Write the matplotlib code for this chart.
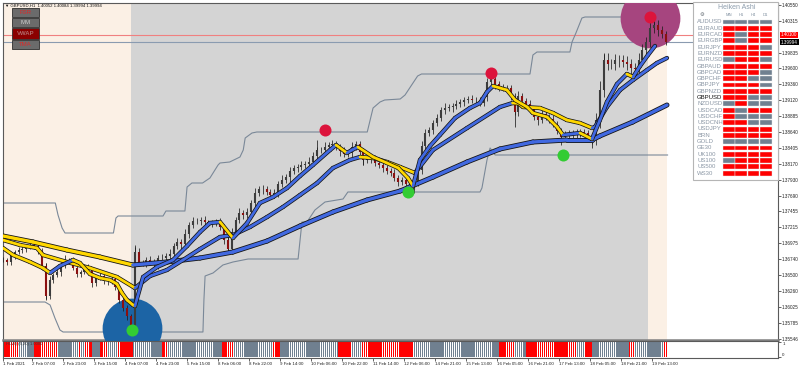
import numpy as np
import matplotlib.pyplot as plt
import matplotlib.transforms as mtransforms
from matplotlib.collections import LineCollection
from matplotlib.patches import Rectangle

plt.rcParams['font.family'] = ['Liberation Sans', 'DejaVu Sans']

# ---------------- data (GBPUSD H1, Feb 2021) ----------------
# x axis = bar number, one candle drawn every 2 bars
candle_step = 2
closes = [
    1.36725, 1.36695, 1.36800, 1.36845, 1.36875, 1.36890, 1.36920, 1.36950, 1.36935, 1.36860,
    1.36635, 1.36185, 1.36425, 1.36500, 1.36545, 1.36650, 1.36725, 1.36725, 1.36605, 1.36515,
    1.36545, 1.36605, 1.36575, 1.36380, 1.36455, 1.36485, 1.36410, 1.36410, 1.36440, 1.36320,
    1.36125, 1.36005, 1.35885, 1.35720, 1.36845, 1.36680, 1.36680, 1.36725, 1.36695, 1.36650,
    1.36755, 1.36755, 1.36785, 1.36815, 1.36935, 1.36995, 1.36965, 1.37115, 1.37250, 1.37310,
    1.37310, 1.37325, 1.37295, 1.37280, 1.37280, 1.37295, 1.37220, 1.37025, 1.36890, 1.37145,
    1.37325, 1.37430, 1.37400, 1.37445, 1.37580, 1.37730, 1.37790, 1.37790, 1.37745, 1.37700,
    1.37730, 1.37865, 1.37925, 1.37970, 1.38060, 1.38105, 1.38120, 1.38150, 1.38165, 1.38195,
    1.38285, 1.38375, 1.38375, 1.38420, 1.38450, 1.38465, 1.38420, 1.38360, 1.38315, 1.38330,
    1.38420, 1.38465, 1.38345, 1.38225, 1.38255, 1.38240, 1.38180, 1.38150, 1.38105, 1.38060,
    1.38030, 1.37955, 1.37895, 1.37925, 1.37865, 1.37775, 1.37880, 1.38075, 1.38435, 1.38630,
    1.38675, 1.38780, 1.38855, 1.38975, 1.39005, 1.39020, 1.39035, 1.39065, 1.39095, 1.39125,
    1.39140, 1.39125, 1.39125, 1.39080, 1.39170, 1.39395, 1.39440, 1.39365, 1.39305, 1.39305,
    1.39305, 1.39170, 1.38945, 1.39185, 1.39110, 1.39065, 1.38990, 1.38870, 1.38825, 1.38915,
    1.38870, 1.38840, 1.38765, 1.38660, 1.38570, 1.38600, 1.38630, 1.38600, 1.38630, 1.38645,
    1.38630, 1.38585, 1.38525, 1.38825, 1.39275, 1.39725, 1.39665, 1.39665, 1.39725, 1.39725,
    1.39695, 1.39665, 1.39605, 1.39590, 1.39725, 1.39875, 1.39995, 1.40205, 1.40250, 1.40175,
    1.40115, 1.39994,
]
# upper / lower shadow of each candle, in pips
wick_up = [4, 3, 5, 3, 4, 6, 3, 5, 4, 3, 5, 4, 6, 3, 4, 5, 7, 3, 4, 5,
           3, 4, 6, 5, 3, 4, 5, 3, 4, 6, 3, 4, 5, 3, 8, 6, 5, 4, 6, 5,
           4, 6, 5, 7, 5, 6, 4, 7, 5, 6, 5, 4, 6, 3, 5, 4, 6, 5, 4, 6,
           5, 7, 4, 6, 5, 8, 4, 6, 5, 4, 6, 5, 7, 4, 6, 5, 4, 6, 5, 7,
           6, 5, 4, 7, 5, 6, 4, 5, 6, 4, 7, 5, 4, 6, 5, 4, 6, 5, 4, 5,
           4, 6, 5, 4, 5, 3, 6, 5, 7, 6, 5, 4, 6, 5, 7, 5, 4, 6, 5, 4,
           5, 6, 4, 5, 7, 6, 8, 5, 4, 6, 5, 4, 6, 7, 5, 4, 6, 5, 4, 6,
           5, 4, 6, 5, 4, 6, 5, 4, 6, 5, 4, 5, 3, 10, 14, 9, 10, 8, 9, 8,
           7, 9, 8, 7, 10, 9, 8, 10, 8, 7, 6, 5]
wick_dn = [3, 5, 4, 6, 3, 4, 5, 3, 4, 5, 6, 4, 5, 4, 3, 6, 4, 5, 3, 4,
           5, 3, 4, 6, 5, 3, 4, 6, 5, 4, 5, 4, 6, 5, 6, 5, 4, 6, 5, 4,
           6, 5, 4, 5, 6, 4, 7, 5, 6, 4, 4, 6, 5, 4, 6, 5, 4, 6, 5, 7,
           4, 5, 6, 5, 4, 6, 5, 7, 4, 6, 5, 6, 4, 5, 7, 4, 6, 5, 4, 6,
           5, 6, 4, 5, 6, 4, 5, 7, 4, 5, 6, 4, 5, 7, 4, 6, 5, 4, 6, 5,
           5, 4, 6, 5, 4, 6, 5, 4, 6, 5, 4, 6, 5, 4, 6, 5, 7, 4, 5, 6,
           5, 4, 6, 5, 4, 6, 5, 7, 5, 4, 6, 5, 4, 6, 5, 4, 6, 5, 7, 4,
           5, 6, 4, 5, 7, 4, 6, 5, 4, 6, 5, 4, 6, 8, 12, 10, 9, 8, 9, 10,
           8, 9, 10, 8, 9, 8, 10, 7, 8, 9, 6, 5]
# long wicks that stand out
spike_bars = [22, 68, 116, 162, 186, 210, 252, 264, 288, 304, 310, 336]
spike_lows = [1.36125, 1.35645, 1.36845, 1.38375, 1.38150, 1.37700, 1.39440, 1.38720, 1.38450, 1.38405, 1.39275, 1.40205]
spike_highs = [1.36680, 1.36950, 1.37100, 1.38525, 1.38345, 1.37925, 1.39545, 1.39185, 1.38660, 1.38600, 1.39830, 1.40400]

# moving averages (bar, price) knots
fast_bars = [0, 5.2, 14, 20.6, 24.3, 29.4, 36.1, 39.7, 44.9, 50, 55.2, 58.8, 61.4, 64, 67.1, 68.1, 72.3, 79.5,
             87.7, 95, 101.7, 106.8, 112, 118.7, 126, 132.6, 139.4, 146.6, 153.3, 160, 168.8, 171.9, 177.5,
             180.1, 183.2, 191, 198.2, 204, 209, 211.6, 215.2, 220.4, 225.5, 233.3, 241, 246.2, 249.8, 252.9,
             256.5, 260.1, 264.3, 270.5, 273.5, 280.8, 286, 289, 297.8, 304, 308.1, 311.7, 316.9, 322, 325.2,
             328.8, 332.9, 336.5]
fast_vals = [1.36905, 1.36800, 1.36695, 1.36605, 1.36530, 1.36635, 1.36725, 1.36680, 1.36515, 1.36455,
             1.36425, 1.36365, 1.36230, 1.36125, 1.36050, 1.36035, 1.36470, 1.36620, 1.36725, 1.36935,
             1.37145, 1.37280, 1.37295, 1.37055, 1.37280, 1.37580, 1.37670, 1.37805, 1.37985, 1.38150,
             1.38375, 1.38450, 1.38330, 1.38375, 1.38420, 1.38270, 1.38180, 1.38105, 1.37955, 1.37835,
             1.38225, 1.38435, 1.38600, 1.38855, 1.39005, 1.39080, 1.39245, 1.39335, 1.39305, 1.39275,
             1.39125, 1.39020, 1.38930, 1.38870, 1.38720, 1.38600, 1.38630, 1.38540, 1.38825, 1.39095,
             1.39365, 1.39515, 1.39470, 1.39635, 1.39800, 1.39935]
mid_bars = [0, 8.8, 17.5, 20.6, 33, 44.9, 58.8, 68.1, 75.9, 84.6, 92.9, 101.7, 112, 118.7, 127.5, 136.3, 144.5,
            153.3, 162.1, 170.3, 179, 184.3, 191, 198.2, 205, 212.6, 221.9, 239.5, 256.5, 263, 266, 268.4, 277.2,
            283.9, 291, 297.8, 304, 305.5, 311.7, 318.5, 325.2, 332.4, 337.5, 342.7]
mid_vals = [1.37025, 1.36950, 1.36905, 1.36800, 1.36695, 1.36605, 1.36470, 1.36305, 1.36485, 1.36575,
            1.36725, 1.36890, 1.37070, 1.37100, 1.37220, 1.37370, 1.37520, 1.37700, 1.37880, 1.38105,
            1.38225, 1.38270, 1.38255, 1.38195, 1.38120, 1.38030, 1.38375, 1.38705, 1.39020, 1.39080,
            1.39075, 1.39020, 1.39005, 1.38930, 1.38825, 1.38780, 1.38705, 1.38720, 1.39020, 1.39275,
            1.39425, 1.39575, 1.39680, 1.39755]
slow_bars = [0, 15.5, 33, 50, 67, 84.6, 101.7, 118.7, 136.3, 153.3, 170.3, 187.9, 205, 222, 239.5, 256.5,
             273.5, 291, 304, 308, 325, 342.7]
slow_vals = [1.37085, 1.36995, 1.36875, 1.36770, 1.36650, 1.36695, 1.36755, 1.36845, 1.37010, 1.37235,
             1.37445, 1.37625, 1.37760, 1.37970, 1.38195, 1.38390, 1.38495, 1.38525, 1.38525, 1.38585,
             1.38795, 1.39050]

# stepped channel (gray)
upper_bars = [0, 27, 28.4, 30.5, 32, 57, 58.3, 59.4, 82.6, 84.1, 93.9, 95, 97.5, 103, 106.8, 111, 112, 117,
              122.3, 124, 125, 128.5, 131, 188, 191, 194.6, 197, 205, 207.5, 214, 216, 272, 273.5, 275.6,
              292.6, 293.7, 295.7, 298.8, 300.4, 343]
upper_vals = [1.37580, 1.37580, 1.37400, 1.37205, 1.37130, 1.37130, 1.37355, 1.37385, 1.37385, 1.37460,
              1.37460, 1.37820, 1.37880, 1.37880, 1.37955, 1.38150, 1.38180, 1.38195, 1.38270, 1.38375,
              1.38555, 1.38630, 1.38645, 1.38645, 1.39005, 1.39095, 1.39125, 1.39140, 1.39200, 1.39485,
              1.39515, 1.39515, 1.39800, 1.39845, 1.39845, 1.39995, 1.40130, 1.40355, 1.40370, 1.40370]
lower_bars = [0, 21.7, 24.3, 26.8, 29.4, 31, 103.2, 103.7, 104.3, 108.4, 113.5, 118.7, 126.5, 152.3, 154.3,
              156.9, 161, 166.2, 175.5, 178, 246.2, 247.2, 249.8, 251.4, 254, 343]
lower_vals = [1.36095, 1.36095, 1.36050, 1.35855, 1.35675, 1.35645, 1.35645, 1.36125, 1.36485, 1.36530,
              1.36650, 1.36695, 1.36740, 1.36740, 1.37295, 1.37295, 1.37475, 1.37595, 1.37640, 1.37745,
              1.37745, 1.37805, 1.38225, 1.38405, 1.38300, 1.38300]

# swing markers
big_bars = [66.6, 334]
big_prices = [1.35705, 1.40355]
top_bars = [166.2, 251.9, 334]
top_prices = [1.38675, 1.39530, 1.40370]
bottom_bars = [66.6, 209, 289]
bottom_prices = [1.35675, 1.37745, 1.38300]

vwap_price = 1.40100
bid_price = 1.39994

price_ticks = [1.40550, 1.40315, 1.39835, 1.39600, 1.39360, 1.39120, 1.38885, 1.38640, 1.38405, 1.38170,
               1.37930, 1.37690, 1.37455, 1.37215, 1.36975, 1.36740, 1.36500, 1.36260, 1.36025, 1.35785,
               1.35546]
date_labels = ['1 Feb 2021', '2 Feb 07:00', '2 Feb 23:00', '3 Feb 15:00', '4 Feb 07:00', '4 Feb 23:00',
               '5 Feb 15:00', '8 Feb 06:00', '8 Feb 22:00', '9 Feb 14:00', '10 Feb 06:00', '10 Feb 22:00',
               '11 Feb 14:00', '12 Feb 06:00', '14 Feb 21:00', '15 Feb 13:00', '16 Feb 05:00', '16 Feb 21:00',
               '17 Feb 13:00', '18 Feb 05:00', '18 Feb 21:00', '19 Feb 13:00']

# HLVQ histogram: runs of (colour, number of bars)
hlvq_runs = [('r', 8), ('g', 8), ('r', 12), ('g', 11), ('r', 1), ('g', 2), ('r', 4), ('g', 4), ('r', 4),
             ('g', 5), ('r', 8), ('g', 15), ('r', 3), ('g', 28), ('r', 6), ('g', 20), ('r', 4), ('g', 30),
             ('r', 7), ('g', 5), ('r', 27), ('g', 44), ('r', 8), ('g', 6), ('r', 26), ('g', 4), ('r', 4),
             ('g', 19), ('r', 3), ('g', 15), ('r', 2)]

# Heiken Ashi dashboard (r = bearish red, g = bullish gray)
ha_periods = ['MN', 'H1', 'H4', 'D1']
ha_symbols = ['AUDUSD', 'EURAUD', 'EURCAD', 'EURGBP', 'EURJPY', 'EURNZD', 'EURUSD', 'GBPAUD', 'GBPCAD',
              'GBPCHF', 'GBPJPY', 'GBPNZD', 'GBPUSD', 'NZDUSD', 'USDCAD', 'USDCHF', 'USDCNH', 'USDJPY',
              'BRN', 'GOLD', 'GE30', 'UK100', 'US100', 'US500', 'WS30']
ha_states = ['gggg', 'rrrr', 'rgrr', 'rgrr', 'rrrg', 'rrrr', 'grrg', 'rrrr', 'rrrg', 'rrgg', 'rrrg', 'rrrr',
             'rrgg', 'grgg', 'rgrr', 'rggg', 'rrgg', 'rrrr', 'rrrr', 'gggg', 'rrrr', 'rrrr', 'grrr', 'rrrr',
             'rrrr']

BLUE = '#4169e1'
YELLOW = '#ffd700'
PEACH = '#fbf0e5'
GRAY_BG = '#d4d4d4'
CHAN = '#7a8898'
RED = '#ff0000'
SLATE = '#708090'


def draw_ma(ax, xs, ys, core, edge, z):
    pts = np.column_stack([xs, ys])
    segs = np.stack([pts[:-1], pts[1:]], axis=1)
    cols = [BLUE if d >= 0 else YELLOW for d in np.diff(ys)]
    ax.add_collection(LineCollection(segs, colors='#151515', linewidths=edge,
                                     capstyle='round', joinstyle='round', zorder=z))
    ax.add_collection(LineCollection(segs, colors=cols, linewidths=core,
                                     capstyle='round', joinstyle='round', zorder=z + 0.1))


fig = plt.figure(figsize=(8, 3.67), dpi=100)
ax = fig.add_axes([3 / 800, 27 / 367, 775 / 800, 337 / 367])
axh = fig.add_axes([3 / 800, 9 / 367, 775 / 800, 17 / 367])

ax.set_xlim(0, 400)
ax.set_ylim(1.35525, 1.40580)

# session shading
ax.axvspan(0, 66, color=PEACH, lw=0, zorder=0)
ax.axvspan(66, 333, color=GRAY_BG, lw=0, zorder=0)
ax.axvspan(333, 342.5, color=PEACH, lw=0, zorder=0)

ax.axhline(vwap_price, color='#f08080', lw=0.8, zorder=1)
ax.axhline(bid_price, color='#8a9bb0', lw=0.8, zorder=1)

ax.plot(upper_bars, upper_vals, color=CHAN, lw=0.8, zorder=2)
ax.plot(lower_bars, lower_vals, color=CHAN, lw=0.8, zorder=2)

ax.scatter(big_bars[:1], big_prices[:1], s=1850, color='#1c64a5', lw=0, zorder=3)
ax.scatter(big_bars[1:], big_prices[1:], s=1850, color='#a6457f', lw=0, zorder=3)

# candles
c = np.array(closes)
bars = np.arange(len(c)) * candle_step
opens = np.r_[c[0], c[:-1]]
highs = np.maximum(opens, c) + np.array(wick_up) * 1e-4
lows = np.minimum(opens, c) - np.array(wick_dn) * 1e-4
up = c >= opens
ax.vlines(bars, lows, highs, color='#1e1e1e', lw=0.55, zorder=4)
ax.vlines(spike_bars, spike_lows, spike_highs, color='#1e1e1e', lw=0.55, zorder=4)
ax.vlines(bars[up], opens[up], c[up], color='#3c3c3c', lw=1.5, zorder=4)
ax.vlines(bars[~up], opens[~up], c[~up], color='#8b1010', lw=1.5, zorder=4)

draw_ma(ax, slow_bars, slow_vals, 2.4, 3.6, 5)
draw_ma(ax, mid_bars, mid_vals, 2.0, 3.1, 6)
draw_ma(ax, fast_bars, fast_vals, 2.0, 3.1, 7)

ax.scatter(top_bars, top_prices, s=75, color='#dc143c', lw=0, zorder=9)
ax.scatter(bottom_bars, bottom_prices, s=75, color='#33cc33', lw=0, zorder=9)

ax.yaxis.tick_right()
ax.set_yticks(price_ticks)
ax.set_yticklabels([f'{p:.5f}' for p in price_ticks])
ax.tick_params(axis='y', labelsize=3.3, length=2, pad=1, width=0.5, colors='#222222')
ax.set_xticks([])
for s in ax.spines.values():
    s.set_color('#5a5a5a')
    s.set_linewidth(0.8)
ax.spines['bottom'].set_color('#808080')
ax.spines['bottom'].set_linewidth(1.8)

# current price labels on the scale
tr = mtransforms.blended_transform_factory(ax.transAxes, ax.transData)
ax.text(1.004, vwap_price, f'{vwap_price:.5f}', transform=tr, fontsize=3.3, color='white', va='center',
        ha='left', bbox=dict(fc='#ff0000', ec='none', pad=0.6), zorder=20, clip_on=False)
ax.text(1.004, bid_price, f'{bid_price:.5f}', transform=tr, fontsize=3.3, color='white', va='center',
        ha='left', bbox=dict(fc='#000000', ec='none', pad=0.6), zorder=20, clip_on=False)

# HLVQ sub window
hcols = []
for col, n in hlvq_runs:
    hcols += [RED if col == 'r' else SLATE] * n
axh.bar(np.arange(len(hcols)) + 0.5, 1, width=0.7, color=hcols, lw=0)
axh.set_xlim(0, 400)
axh.set_ylim(-0.08, 1.08)
axh.yaxis.tick_right()
axh.set_yticks([1, 0])
axh.set_yticklabels(['1', '0'])
for lbl, va in zip(axh.get_yticklabels(), ['top', 'bottom']):
    lbl.set_va(va)
date_ticks = [0] + [15 + 16 * i for i in range(len(date_labels) - 1)]
axh.set_xticks(date_ticks)
axh.set_xticklabels(date_labels)
plt.setp(axh.get_xticklabels(), ha='left')
axh.tick_params(labelsize=3.2, length=2, pad=1, width=0.5, colors='#222222')
for s in axh.spines.values():
    s.set_color('#5a5a5a')
    s.set_linewidth(0.8)
axh.text(0.004, 0.93, 'HLVQ (5,20) 1.0000', transform=axh.transAxes, fontsize=3.0, color='#3a3a3a',
         va='top', ha='left')

# overlay in pixel units for the terminal widgets
ov = fig.add_axes([0, 0, 1, 1], zorder=10)
ov.set_xlim(0, 800)
ov.set_ylim(367, 0)
ov.axis('off')
ov.patch.set_alpha(0)

ov.text(5, 5.5, '\u25bc GBPUSD,H1  1.40052 1.40084 1.39994 1.39994', fontsize=3.1, color='#111111',
        va='center', ha='left')
buttons = [('FSR', 8, 9, '#6b6b6b', '#e02828'), ('MM', 18, 8.5, '#6b6b6b', '#cfcfcf'),
           ('VWAP', 28, 11, '#8b0000', '#b06a6a'), ('TMA', 40, 9, '#6b6b6b', '#e02828')]
for name, top, h, fc, tc in buttons:
    ov.add_patch(Rectangle((12, top), 27, h, fc=fc, ec='#2e2e2e', lw=0.6))
    ov.text(25.5, top + h / 2 + 0.3, name, fontsize=4.3, color=tc, ha='center', va='center',
            fontweight='bold' if name == 'VWAP' else 'normal')

# Heiken Ashi panel
ov.add_patch(Rectangle((693, 2), 85, 178, fc='white', ec='#b5b5b5', lw=0.8))
ov.text(737, 7.5, 'Heiken Ashi', fontsize=5.0, color='#8c9cac', ha='center', va='center')
ov.text(702, 14, '\u2699', fontsize=3.8, color='#606870', ha='center', va='center')
for j, per in enumerate(ha_periods):
    ov.text(728.5 + j * 12.4, 15, per, fontsize=3.0, color='#8090a0', ha='center', va='center')
for i, (sym, st) in enumerate(zip(ha_symbols, ha_states)):
    y = 19.5 + i * 6.3
    ov.text(697, y + 2.4, sym, fontsize=4.3, color='#111111' if sym == 'GBPUSD' else '#8a96a4',
            ha='left', va='center')
    for j, s in enumerate(st):
        ov.add_patch(Rectangle((723 + j * 12.4, y), 11.6, 4.9, fc=RED if s == 'r' else SLATE,
                               ec='#e8e8e8', lw=0.3))

fig.savefig('out.png', dpi=100, facecolor='white')
